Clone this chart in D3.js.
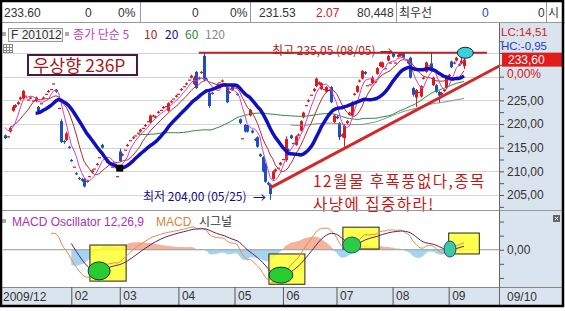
<!DOCTYPE html>
<html>
<head>
<meta charset="utf-8">
<script src="https://cdn.jsdelivr.net/npm/d3@7/dist/d3.min.js"></script>
<style>
  body { margin: 0; background: #fff; }
  svg { display: block; font-family: "Liberation Sans", "Noto Sans CJK KR", sans-serif; }
  .kr { font-family: "Noto Sans CJK KR", sans-serif; }
</style>
</head>
<body>
<svg></svg>
<script>
// F 201012 daily, 2009/12 ~ 2010/09
const preCloses = [221.4, 220.2, 219.0, 220.6, 219.6, 220.0, 219.2]

const opens = [
  217.6,217.2,218.4,222.8,223.6,224.2,225.2,225.4,226.0,225.2,
  225.4,225.0,224.8,223.6,224.4,225.4,226.4,226.8,227.4,228.6,
  227.2,223.4,220.6,216.4,216.6,215.2,212.4,211.0,209.6,208.6,
  208.4,208.4,207.8,209.0,209.8,210.6,211.4,213.0,215.6,213.2,
  212.0,211.6,211.0,211.6,209.0,214.2,213.4,214.6,215.4,216.6,
  217.0,217.6,218.2,218.4,219.2,219.6,220.6,220.4,221.6,221.4,
  222.4,223.0,223.4,223.8,222.8,224.6,225.4,225.8,226.4,227.2,
  228.0,228.4,229.4,229.8,228.4,231.0,229.6,230.8,234.4,229.6,
  226.6,226.4,227.6,228.2,228.8,229.0,228.6,227.8,226.6,228.0,
  228.0,226.4,221.0,217.0,219.8,219.6,221.8,218.6,216.8,217.2,
  213.6,213.0,211.6,207.6,207.2,208.4,210.0,210.8,211.4,212.6,
  212.4,214.6,217.6,216.0,215.6,217.6,218.6,221.4,224.0,224.8,
  226.2,227.0,228.0,228.4,227.4,227.4,226.8,227.2,227.8,220.4,
  221.6,220.2,217.4,217.0,220.2,222.0,221.8,226.2,226.8,229.0,
  229.6,231.0,228.2,228.4,228.6,229.0,230.6,232.2,232.0,231.8,
  233.4,233.0,235.0,233.0,234.2,234.4,235.0,231.8,233.4,234.0,
  227.6,225.6,226.8,225.8,229.6,231.0,232.4,232.8,228.2,228.2,
  226.8,226.2,227.0,227.6,230.2,233.2,232.8,233.4,232.6,232.8,232.2
]
const closes = [
  217.0,217.4,219.2,223.6,224.0,224.6,225.6,227.0,226.0,225.2,
  225.6,225.0,225.6,222.6,224.4,225.6,226.4,227.0,227.4,228.6,
  226.8,223.4,216.2,216.2,218.0,215.0,212.2,211.0,209.4,208.4,
  208.0,206.8,208.0,209.0,210.2,210.6,211.6,213.0,215.0,213.0,
  212.0,211.4,211.0,211.6,209.0,212.2,213.6,214.6,215.6,216.6,
  217.2,217.6,218.2,218.8,219.2,219.8,220.6,221.8,221.8,221.6,
  222.6,223.0,223.6,223.8,224.4,224.8,225.4,226.0,226.4,227.4,
  228.0,228.6,229.4,230.2,229.8,227.6,229.8,231.0,229.4,229.4,
  223.8,226.6,227.6,228.4,228.8,229.2,228.6,224.6,226.8,227.2,
  228.0,226.2,220.2,217.0,218.4,218.4,223.0,218.2,216.6,215.2,
  213.2,210.0,207.8,207.2,205.2,210.0,210.4,210.8,211.8,212.6,
  216.8,214.4,217.0,216.0,217.4,217.8,220.6,222.4,224.0,225.0,
  226.2,227.4,229.6,228.8,228.6,227.4,227.8,227.2,224.6,221.8,
  221.2,217.2,217.8,219.6,220.6,222.4,224.6,226.4,228.0,229.2,
  231.2,230.6,228.2,228.4,229.8,229.0,231.8,233.0,233.0,231.8,
  234.4,233.0,234.2,233.0,234.6,235.0,234.0,231.8,232.8,229.8,
  226.2,227.2,226.8,228.0,229.8,233.0,232.4,231.2,229.8,226.8,
  226.0,226.6,227.2,229.8,230.4,232.0,233.0,234.0,232.4,233.4,233.6
]
const highs = [
  217.8,217.4,219.4,224.0,224.2,224.8,225.8,227.2,226.0,225.2,
  225.8,225.0,225.8,223.8,224.4,225.8,226.4,227.2,227.4,228.6,
  227.4,223.4,221.0,216.6,218.4,215.4,212.6,211.0,209.8,208.8,
  208.6,208.6,208.2,209.0,210.4,210.6,211.8,213.0,215.8,213.4,
  212.0,211.8,211.0,211.6,209.0,214.8,213.8,214.6,215.8,216.6,
  217.4,217.6,218.2,219.0,219.2,220.0,220.6,222.0,222.0,221.8,
  222.8,223.0,223.8,223.8,224.6,225.0,225.4,226.2,226.4,227.6,
  228.0,228.8,229.4,230.4,230.2,231.2,230.0,231.2,235.0,229.8,
  226.8,226.8,227.6,228.6,228.8,229.4,228.6,228.0,227.0,228.2,
  228.0,226.6,221.2,217.0,220.0,219.8,223.2,218.8,217.0,217.4,
  213.8,213.2,211.8,207.8,207.4,210.2,210.6,210.8,212.0,212.6,
  217.4,214.8,217.8,216.0,217.6,218.0,220.8,222.6,224.0,225.2,
  226.2,227.6,229.8,229.0,228.8,227.4,228.0,227.2,228.0,222.0,
  221.8,220.4,218.0,220.0,220.8,222.6,224.8,226.6,228.2,229.4,
  231.4,231.2,228.2,228.4,230.2,229.0,232.0,233.2,233.2,231.8,
  234.6,233.0,235.0,233.0,234.8,235.05,235.0,231.8,233.6,234.2,
  227.8,227.4,226.8,228.2,230.0,233.2,232.4,235.0,230.0,228.4,
  227.0,226.8,227.4,230.0,230.6,233.4,233.2,234.2,232.8,234.4,234.0
]
const lows = [
  216.8,217.2,218.2,222.6,223.4,224.0,225.0,225.2,226.0,225.2,
  225.2,225.0,224.6,222.4,224.4,225.2,226.4,226.6,227.4,228.6,
  226.6,223.4,216.0,215.8,216.4,214.8,212.0,211.0,209.2,208.2,
  207.8,206.6,207.6,209.0,209.6,210.6,211.2,213.0,214.8,212.8,
  212.0,211.2,211.0,211.6,209.0,212.0,213.2,214.6,215.2,216.6,
  216.8,217.6,218.2,218.2,219.2,219.4,220.6,220.2,221.4,221.2,
  222.2,223.0,223.2,223.8,222.6,224.4,225.4,225.6,226.4,227.0,
  228.0,228.2,229.4,229.6,228.2,227.4,229.4,230.6,229.0,229.2,
  223.4,226.2,227.6,228.0,228.8,228.8,228.6,224.4,226.4,227.0,
  228.0,226.0,220.0,217.0,218.2,218.2,221.6,218.0,216.4,215.0,
  213.0,209.8,207.6,207.0,204.0,208.2,209.8,210.8,211.2,212.6,
  212.0,214.2,216.8,216.0,215.4,217.4,218.4,221.2,224.0,224.6,
  226.2,226.8,227.8,228.2,227.2,227.4,226.6,227.2,224.4,220.2,
  221.0,216.6,217.2,215.2,220.0,221.8,221.6,226.0,226.6,228.8,
  229.4,230.4,228.2,228.4,228.4,229.0,230.4,232.0,231.8,231.8,
  233.2,233.0,234.0,233.0,234.0,234.2,233.8,231.8,232.6,229.6,
  225.8,223.6,226.8,225.6,229.4,230.8,232.4,231.0,228.0,226.6,
  224.4,226.0,226.8,227.4,230.0,231.8,232.6,233.2,232.2,232.6,231.6
]

const monthIdx = [26, 45, 68, 90, 109, 130, 152, 174]
const monthLabels = ['02', '03', '04', '05', '06', '07', '08', '09']
const gridPrices = [205, 210, 215, 220, 225, 230, 235]
const axisPrices = d3.range(202.5, 237.6, 2.5)
const labelPrices = [205, 210, 215, 220, 225]
const macdTicks = [-4, -2, 0, 2, 4]

const highMark = {price: 235.05, from: 76, to: 189}
const lowMark = {price: 204.00, idx: 104}
const trend = [[104, 206.5], [194, 232.3]]
// yellow boxes [from, to, top, bottom] and green rings [idx, value, rx, ry] on the MACD pane
const boxes = [[33.3, 47.5, 0.67, -4.45], [103.5, 117.6, -0.6, -4.9], [132.5, 146.7, 3.2, 0.1], [174, 186, 2.37, -0.6]]
const rings = [[36.9, -3.0, 11, 9], [108.2, -3.6, 12, 8], [136, 0.67, 9, 8], [174.5, 0.1, 6, 8]]

const W = 565, H = 311
const svg = d3.select('svg').attr('width', W).attr('height', H)
svg.append('rect').attr('width', W).attr('height', H).attr('fill', '#fff')

const plotL = 3, plotR = 499
const priceTop = 42, priceBot = 210
const macdTop = 211, macdBot = 287

const x = d3.scaleLinear().domain([0, 180]).range([5, 464])
const y = d3.scaleLinear().domain([205, 235]).range([195, 53])

// moving averages / macd
const all = preCloses.concat(closes)
const nPre = preCloses.length
const sma = n => closes.map((c, i) => {
  const j = i + nPre
  return j < n - 1 ? null : d3.mean(all.slice(j - n + 1, j + 1))
})
const ema = (arr, n) => {
  const out = []
  let prev = null, seed = []
  arr.forEach(v => {
    if (v == null) { out.push(null); return }
    if (prev == null) {
      seed.push(v)
      if (seed.length === n) prev = d3.mean(seed)
      out.push(prev)
    } else {
      prev = prev + (v - prev) * 2 / (n + 1)
      out.push(prev)
    }
  })
  return out
}
const ma5 = sma(5), ma10 = sma(10), ma20 = sma(20), ma60 = sma(60), ma120 = sma(120)
const e12 = ema(all, 12), e26 = ema(all, 26)
const macdAll = all.map((c, j) => e12[j] == null || e26[j] == null ? null : e12[j] - e26[j])
const sigAll = ema(macdAll, 9)
const macd = macdAll.slice(nPre), signal = sigAll.slice(nPre)
const oscV = macd.map((m, i) => m == null || signal[i] == null ? null : m - signal[i])

const my = d3.scaleLinear().domain(d3.extent(macd.concat(signal))).range([283, 227])

// panels
svg.append('rect').attr('x', plotR).attr('y', 23).attr('width', 64).attr('height', 282).attr('fill', '#dae4ee')
svg.append('rect').attr('x', 2).attr('y', macdBot).attr('width', 561).attr('height', 18).attr('fill', '#dae4ee')

const defs = svg.append('defs')
defs.append('clipPath').attr('id', 'cp').append('rect')
  .attr('x', plotL).attr('y', priceTop).attr('width', plotR - plotL).attr('height', priceBot - priceTop)
defs.append('clipPath').attr('id', 'cm').append('rect')
  .attr('x', plotL).attr('y', macdTop).attr('width', plotR - plotL).attr('height', macdBot - macdTop)

// header
const hdr = svg.append('g').attr('font-size', 12).attr('fill', '#333')
const hdrText = (t, px, col, kr) => hdr.append('text').attr('x', px).attr('y', 17).attr('fill', col || '#333')
  .attr('class', kr ? 'kr' : null).text(t)
hdrText('233.60', 4); hdrText('0', 85); hdrText('0%', 118); hdrText('0', 192); hdrText('0%', 230)
hdrText('231.53', 259); hdrText('2.07', 316, '#d02020'); hdrText('80,448', 357)
hdrText('최우선', 399, '#333', true); hdrText('0', 482, '#2040c0'); hdrText('0', 538); hdrText('시', 548, '#333', true)
;[140, 250, 396, 546].forEach(v => svg.append('line').attr('x1', v + 0.5).attr('x2', v + 0.5)
  .attr('y1', 2).attr('y2', 22).attr('stroke', '#999'))
svg.append('line').attr('x1', 0).attr('x2', W).attr('y1', 22.5).attr('y2', 22.5).attr('stroke', '#999')

// legend row
svg.append('rect').attr('x', 2).attr('y', 32).attr('width', 4).attr('height', 4).attr('fill', '#aaa')
svg.append('rect').attr('x', 8.5).attr('y', 28.5).attr('width', 54).attr('height', 13).attr('fill', '#f6f6f6').attr('stroke', '#999')
svg.append('text').attr('x', 11).attr('y', 39).attr('font-size', 12).attr('fill', '#333').text('F 201012')
svg.append('rect').attr('x', 65).attr('y', 32).attr('width', 4).attr('height', 4).attr('fill', '#aaa')
const leg = [['종가 단순 5', 73, '#c040c0'], ['10', 144, '#b02020'], ['20', 165, '#101090'], ['60', 185, '#2a8a2a'], ['120', 205, '#888']]
leg.forEach(d => svg.append('text').attr('class', 'kr').attr('x', d[1]).attr('y', 39).attr('font-size', 12).attr('fill', d[2]).text(d[0]))
const icon = svg.append('g').attr('stroke', '#888').attr('fill', 'none')
icon.append('rect').attr('x', 3.5).attr('y', 44.5).attr('width', 9).attr('height', 8).attr('fill', '#fff')
icon.append('path').attr('d', 'M3.5,47.5H12.5M3.5,50.5H12.5M6.5,44.5V52.5M9.5,44.5V52.5')

// price pane
const pg = svg.append('g').attr('clip-path', 'url(#cp)')
pg.selectAll('line.grid').data(gridPrices).join('line').attr('class', 'grid')
  .attr('x1', plotL).attr('x2', plotR).attr('y1', d => Math.round(y(d)) + 0.5).attr('y2', d => Math.round(y(d)) + 0.5)
  .attr('stroke', '#d4d4d4')

const idx = d3.range(closes.length)
const col = i => closes[i] >= opens[i] ? '#e01818' : '#1d4fc4'
pg.selectAll('line.wick').data(idx).join('line').attr('class', 'wick')
  .attr('x1', i => Math.round(x(i)) + 0.5).attr('x2', i => Math.round(x(i)) + 0.5)
  .attr('y1', i => y(highs[i])).attr('y2', i => y(lows[i]))
  .attr('stroke', col)
pg.selectAll('rect.body').data(idx).join('rect').attr('class', 'body')
  .attr('x', i => Math.round(x(i)) - 1).attr('width', 3)
  .attr('y', i => y(Math.max(opens[i], closes[i])))
  .attr('height', i => Math.max(1.2, Math.abs(y(opens[i]) - y(closes[i]))))
  .attr('fill', col)

const maLine = arr => d3.line().defined(i => arr[i] != null).x(i => x(i)).y(i => y(arr[i]))(idx)
pg.append('path').attr('d', maLine(ma120)).attr('fill', 'none').attr('stroke', '#8c8c8c').attr('stroke-width', 1)
pg.append('path').attr('d', maLine(ma60)).attr('fill', 'none').attr('stroke', '#2a8a3a').attr('stroke-width', 1)
pg.append('path').attr('d', maLine(ma10)).attr('fill', 'none').attr('stroke', '#c02828').attr('stroke-width', 1)
pg.append('path').attr('d', maLine(ma5)).attr('fill', 'none').attr('stroke', '#d040d0').attr('stroke-width', 1)
pg.append('path').attr('d', maLine(ma20)).attr('fill', 'none').attr('stroke', '#1010c0').attr('stroke-width', 3.5)
  .attr('stroke-linejoin', 'round')

const mi = d3.minIndex(ma20)
pg.append('rect').attr('x', x(mi) - 3.5).attr('y', y(ma20[mi]) - 3.5).attr('width', 7).attr('height', 7).attr('fill', '#000')

// annotations
pg.append('line').attr('x1', x(trend[0][0])).attr('y1', y(trend[0][1])).attr('x2', x(trend[1][0])).attr('y2', y(trend[1][1]))
  .attr('stroke', '#d42828').attr('stroke-width', 3)
svg.append('line').attr('x1', x(highMark.from)).attr('x2', x(highMark.to))
  .attr('y1', y(highMark.price)).attr('y2', y(highMark.price)).attr('stroke', '#c02020').attr('stroke-width', 2)
svg.append('ellipse').attr('cx', x(180.5)).attr('cy', y(highMark.price)).attr('rx', 8).attr('ry', 5.5)
  .attr('fill', '#3cd0dc').attr('stroke', '#102828')

svg.append('text').attr('class', 'kr').attr('x', 272).attr('y', 55).attr('font-size', 12).attr('fill', '#b02020')
  .text('최고 ' + highMark.price.toFixed(2).replace('.', ',') + ' (08/05)')
svg.append('text').attr('class', 'kr').attr('x', 380).attr('y', 56).attr('font-size', 13).attr('fill', '#b02020').text('→')
svg.append('text').attr('class', 'kr').attr('x', 143).attr('y', 201).attr('font-size', 12).attr('fill', '#10107a')
  .text('최저 ' + lowMark.price.toFixed(2).replace('.', ',') + ' (05/25)')
svg.append('text').attr('class', 'kr').attr('x', 253).attr('y', 202).attr('font-size', 13).attr('fill', '#10107a').text('→')

svg.append('rect').attr('x', 28).attr('y', 55).attr('width', 109).attr('height', 20).attr('fill', '#fff')
  .attr('stroke', '#4a1848').attr('stroke-width', 2)
svg.append('text').attr('class', 'kr').attr('x', 33).attr('y', 71.5).attr('font-size', 17.5).attr('fill', '#a81818').text('우상향 236P')

svg.append('text').attr('class', 'kr').attr('x', 313).attr('y', 187).attr('font-size', 15.5).attr('letter-spacing', 1.5)
  .attr('fill', '#cc1414').text('12월물 후폭풍없다,종목')
svg.append('text').attr('class', 'kr').attr('x', 313).attr('y', 209.5).attr('font-size', 15.5).attr('letter-spacing', 1.5)
  .attr('fill', '#cc1414').text('사냥에 집중하라!')

// right price axis
const yAxis = d3.axisRight(y).tickValues(axisPrices).tickSize(5)
  .tickFormat(d => labelPrices.includes(d) ? d.toFixed(2).replace('.', ',') : '')
const yAxisG = svg.append('g').attr('transform', `translate(${plotR},0)`).call(yAxis)
yAxisG.select('.domain').remove()
yAxisG.selectAll('line').attr('stroke', '#555')
yAxisG.selectAll('text').attr('font-size', 12).attr('fill', '#333').attr('font-family', 'Liberation Sans')

const last = closes[closes.length - 1]
svg.append('rect').attr('x', 502).attr('y', y(last) - 7).attr('width', 61).attr('height', 14).attr('fill', '#e01c1c')
svg.append('text').attr('x', 508).attr('y', y(last) + 4.5).attr('font-size', 12).attr('fill', '#fff').text(last.toFixed(2).replace('.', ','))
svg.append('text').attr('x', 507).attr('y', y(last) + 18.5).attr('font-size', 12).attr('fill', '#d02020').text('0,00%')
svg.append('text').attr('x', 501).attr('y', 36).attr('font-size', 11.5).attr('fill', '#d02020').text('LC:14,51')
svg.append('text').attr('x', 501).attr('y', 50).attr('font-size', 11.5).attr('fill', '#2040c0').text('HC:-0,95')

// macd pane
svg.append('line').attr('x1', 2).attr('x2', 563).attr('y1', 210.5).attr('y2', 210.5).attr('stroke', '#999')
svg.append('rect').attr('x', 2).attr('y', 219).attr('width', 4).attr('height', 4).attr('fill', '#aaa')
svg.append('text').attr('x', 12).attr('y', 226).attr('font-size', 12).attr('fill', '#b030b0').text('MACD Oscillator 12,26,9')
svg.append('text').attr('x', 156).attr('y', 226).attr('font-size', 12).attr('fill', '#e08040').text('MACD')
svg.append('text').attr('class', 'kr').attr('x', 199).attr('y', 226).attr('font-size', 12).attr('fill', '#333').text('시그널')

const mg = svg.append('g').attr('clip-path', 'url(#cm)')
const area = sgn => d3.area().defined(i => oscV[i] != null).x(i => x(i)).y0(my(0))
  .y1(i => my(sgn > 0 ? Math.max(0, oscV[i]) : Math.min(0, oscV[i])))(idx)
mg.append('path').attr('d', area(1)).attr('fill', '#f4b49c')
mg.append('path').attr('d', area(-1)).attr('fill', '#a6d4ee')
mg.append('line').attr('x1', plotL).attr('x2', plotR).attr('y1', my(0)).attr('y2', my(0)).attr('stroke', '#999')

mg.selectAll('rect.box').data(boxes).join('rect').attr('class', 'box')
  .attr('x', d => x(d[0])).attr('width', d => x(d[1]) - x(d[0]))
  .attr('y', d => my(d[2])).attr('height', d => my(d[3]) - my(d[2]))
  .attr('fill', '#ffff30').attr('fill-opacity', 0.85).attr('stroke', '#222')
const ringFill = ['#28cc30', '#28cc30', '#2ccc48', '#3cc8a0']
const ringEdge = ['#103c30', '#103c30', '#20508a', '#20508a']
svg.selectAll('ellipse.ring').data(rings).join('ellipse').attr('class', 'ring')
  .attr('cx', d => x(d[0])).attr('cy', d => my(d[1])).attr('rx', d => d[2]).attr('ry', d => d[3])
  .attr('fill', (d, k) => ringFill[k]).attr('stroke', (d, k) => ringEdge[k])

const mLine = arr => d3.line().defined(i => arr[i] != null).x(i => x(i)).y(i => my(arr[i]))(idx)
mg.append('path').attr('d', mLine(macd)).attr('fill', 'none').attr('stroke', '#e88a48')
mg.append('path').attr('d', mLine(signal)).attr('fill', 'none').attr('stroke', '#5a1e6a')

const mAxis = d3.axisRight(my).tickValues(macdTicks).tickSize(5).tickFormat(d => d === 0 ? '0,00' : '')
const mAxisG = svg.append('g').attr('transform', `translate(${plotR},0)`).call(mAxis)
mAxisG.select('.domain').remove()
mAxisG.selectAll('line').attr('stroke', '#555')
mAxisG.selectAll('text').attr('font-size', 12).attr('fill', '#333').attr('font-family', 'Liberation Sans')
svg.append('rect').attr('x', 553).attr('y', 215).attr('width', 7).attr('height', 7).attr('fill', '#666')
svg.append('path').attr('d', 'M555,217L558,220M558,217L555,220').attr('stroke', '#fff')

// x axis
svg.append('line').attr('x1', 2).attr('x2', 563).attr('y1', macdBot + 0.5).attr('y2', macdBot + 0.5).attr('stroke', '#888')
const xAxis = d3.axisBottom(x).tickValues(monthIdx).tickFormat((d, k) => monthLabels[k]).tickSize(18)
const xAxisG = svg.append('g').attr('transform', `translate(0,${macdBot})`).call(xAxis)
xAxisG.select('.domain').remove()
xAxisG.selectAll('line').attr('stroke', '#555')
xAxisG.selectAll('text').attr('text-anchor', 'start').attr('x', 3).attr('y', 9).attr('dy', '0.35em')
  .attr('font-size', 12).attr('fill', '#333').attr('font-family', 'Liberation Sans')
svg.append('text').attr('x', 3).attr('y', 301).attr('font-size', 12).attr('fill', '#333').text('2009/12')
svg.append('text').attr('x', 507).attr('y', 301).attr('font-size', 12).attr('fill', '#333').text('09/10')
svg.append('line').attr('x1', plotR + 0.5).attr('x2', plotR + 0.5).attr('y1', 23).attr('y2', 305).attr('stroke', '#666')

// frame
svg.append('rect').attr('x', 1).attr('y', 1).attr('width', 562).attr('height', 305)
  .attr('fill', 'none').attr('stroke', '#000').attr('stroke-width', 2.5)
</script>
</body>
</html>
